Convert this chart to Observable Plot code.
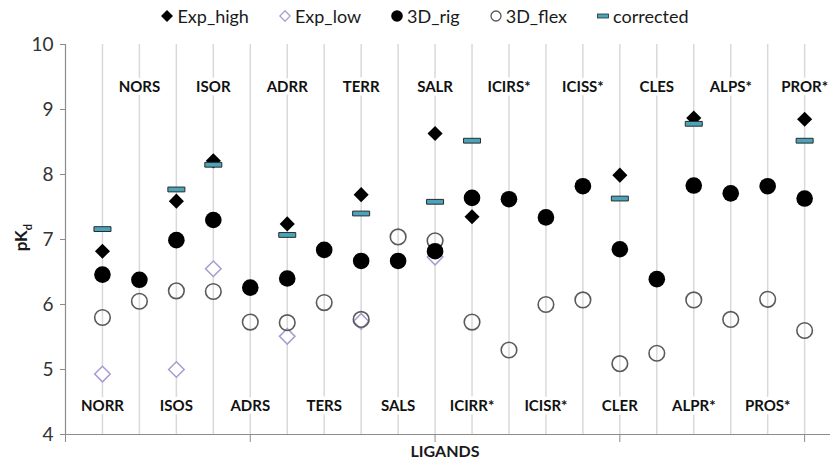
<!DOCTYPE html>
<html>
<head>
<meta charset="utf-8">
<script src="https://cdn.jsdelivr.net/npm/d3@7"></script>
<script src="https://cdn.jsdelivr.net/npm/@observablehq/plot@0.6"></script>
<style>
  body { margin: 0; background: #fff; font-family: Lato, "Open Sans", sans-serif; }
  #wrap { width: 830px; position: relative; }
  #legend { height: 30px; display: flex; justify-content: center; align-items: center; gap: 30px; font-size: 18px; color: #1a1a1a; box-sizing: border-box; padding-top: 2px; padding-left: 20px; }
  .item { display: inline-flex; align-items: center; gap: 4px; }
  #ylabel { position: absolute; left: 0px; top: 226px; width: 44px; text-align: center; transform: rotate(-90deg); transform-origin: center; font-weight: bold; font-size: 17px; color: #1a1a1a; }
  #xlabel { position: absolute; left: 0; width: 830px; text-align: center; top: 441px; font-weight: bold; font-size: 16px; color: #1a1a1a; padding-left: 60px; box-sizing: border-box; }
</style>
</head>
<body>
<div id="wrap">
  <div id="legend"></div>
  <div id="chart"></div>
  <div id="ylabel">pK<sub style="font-size:11px">d</sub></div>
  <div id="xlabel">LIGANDS</div>
</div>
<script>
const ligands = ["NORR","NORS","ISOS","ISOR","ADRS","ADRR","TERS","TERR","SALS","SALR","ICIRR*","ICIRS*","ICISR*","ICISS*","CLER","CLES","ALPR*","ALPS*","PROS*","PROR*"];
const expHigh = [6.82, null, 7.59, 8.21, null, 7.24, null, 7.69, null, 8.63, 7.35, null, null, null, 7.99, null, 8.87, null, null, 8.85];
const expLow = [4.93, null, 5.00, 6.55, null, 5.51, null, 5.74, null, 6.73, null, null, null, null, null, null, null, null, null, null];
const rig3D = [6.46, 6.38, 6.99, 7.30, 6.26, 6.40, 6.84, 6.67, 6.67, 6.82, 7.64, 7.62, 7.34, 7.82, 6.85, 6.39, 7.83, 7.71, 7.82, 7.63];
const flex3D = [5.80, 6.05, 6.21, 6.20, 5.73, 5.72, 6.03, 5.77, 7.04, 6.98, 5.73, 5.30, 6.00, 6.07, 5.09, 5.25, 6.07, 5.77, 6.08, 5.60];
const corrected = [7.16, null, 7.77, 8.15, null, 7.07, null, 7.40, null, 7.58, 8.52, null, null, null, 7.63, null, 8.78, null, null, 8.52];
const yTicks = [4, 5, 6, 7, 8, 9, 10];
const xTicks = [0, 5, 10, 15, 20];

const rows = ligands.map((name, i) => ({
  name, pos: i + 1, top: (i % 2) === 1,
  expHigh: expHigh[i], expLow: expLow[i], rig: rig3D[i], flex: flex3D[i], corrected: corrected[i]
}));
const has = k => rows.filter(d => d[k] != null);

const barSymbol = { draw(ctx) { const w = 8.5, h = 2.4; ctx.moveTo(-w, -h); ctx.lineTo(w, -h); ctx.lineTo(w, h); ctx.lineTo(-w, h); ctx.closePath(); } };

const COLORS = { high: "#000", low: "#a99bd1", rig: "#000", flex: "#5a5a5a", corrFill: "#4aa5bb", corrStroke: "#2b2b2b", grid: "#d9d9d9", axis: "#8c8c8c" };

const plot = Plot.plot({
  width: 830, height: 431,
  marginTop: 14, marginBottom: 27, marginLeft: 65, marginRight: 0,
  style: { fontFamily: "Lato, 'Open Sans', sans-serif", background: "white" },
  x: { domain: [0, 20.7] },
  y: { domain: [4, 10] },
  marks: [
    Plot.ruleX(rows, { x: "pos", y1: 4, y2: 10, stroke: COLORS.grid, strokeWidth: 1.5 }),
    Plot.ruleY([4], { stroke: COLORS.axis, strokeWidth: 1.2 }),
    Plot.ruleX([0], { y1: 4, y2: 10, stroke: COLORS.axis, strokeWidth: 1.2 }),
    Plot.axisX({ ticks: xTicks, tickSize: 8, tickFormat: () => "", stroke: COLORS.axis, label: null }),
    Plot.axisY({ ticks: yTicks, tickSize: 5, tickPadding: 7, fontSize: 19, tickFormat: d => String(d), fill: "#333", stroke: COLORS.axis, label: null }),
    Plot.text(rows.filter(d => d.top), { x: "pos", y: 9.35, text: "name", fontWeight: "bold", fontSize: 15, fill: "#111", stroke: "white", strokeWidth: 7 }),
    Plot.text(rows.filter(d => !d.top), { x: "pos", y: 4.43, text: "name", fontWeight: "bold", fontSize: 15, fill: "#111", stroke: "white", strokeWidth: 7 }),
    Plot.dot(has("expLow"), { x: "pos", y: "expLow", symbol: "diamond2", r: 7, fill: "white", stroke: COLORS.low, strokeWidth: 1.5 }),
    Plot.dot(rows, { x: "pos", y: "flex", r: 7.8, fill: "none", stroke: COLORS.flex, strokeWidth: 1.6 }),
    Plot.dot(rows, { x: "pos", y: "rig", r: 8.3, fill: COLORS.rig, stroke: "none" }),
    Plot.dot(has("expHigh"), { x: "pos", y: "expHigh", symbol: "diamond2", r: 6.8, fill: COLORS.high, stroke: "none" }),
    Plot.dot(has("corrected"), { x: "pos", y: "corrected", symbol: barSymbol, fill: COLORS.corrFill, stroke: COLORS.corrStroke, strokeWidth: 1 })
  ]
});
document.getElementById("chart").appendChild(plot);

const legendItems = [
  { label: "Exp_high", svg: '<path d="M6,0 L12,6 L6,12 L0,6 Z" fill="#000"/>' },
  { label: "Exp_low", svg: '<path d="M6,0.8 L11.2,6 L6,11.2 L0.8,6 Z" fill="white" stroke="#a99bd1" stroke-width="1.3"/>' },
  { label: "3D_rig", svg: '<circle cx="6" cy="6" r="5.8" fill="#000"/>' },
  { label: "3D_flex", svg: '<circle cx="6" cy="6" r="5" fill="none" stroke="#5a5a5a" stroke-width="1.3"/>' },
  { label: "corrected", svg: '<rect x="0.5" y="4" width="11" height="4" fill="#4aa5bb" stroke="#2b2b2b" stroke-width="0.8"/>' }
];
const legend = document.getElementById("legend");
for (const it of legendItems) {
  const span = document.createElement("span");
  span.className = "item";
  span.innerHTML = `<svg width="12" height="12" viewBox="0 0 12 12">${it.svg}</svg><span>${it.label}</span>`;
  legend.appendChild(span);
}
</script>
</body>
</html>
